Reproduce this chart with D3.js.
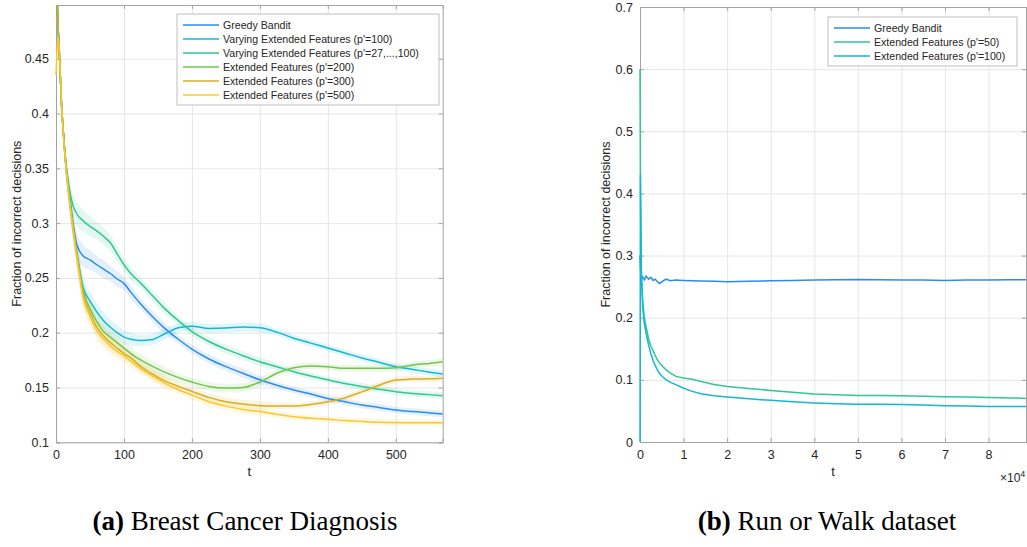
<!DOCTYPE html>
<html>
<head>
<meta charset="utf-8">
<script src="https://cdn.jsdelivr.net/npm/d3@7"></script>
<style>
    body { margin: 0; background: #fff; }
    svg text { font-family: "Liberation Sans", Arial, sans-serif; fill: #262626; }
    .caption { font-family: "Liberation Serif", "DejaVu Serif", serif; fill: #000; }
</style>
</head>
<body>
<svg id="chart" width="1027" height="547"></svg>
<script>
// ---- panel (a): Breast Cancer Diagnosis ----
const tLeft = [0, 3, 5, 8, 10, 15, 20, 25, 30, 40, 50, 60, 70, 80, 90, 100, 110, 125, 140, 160,
    180, 200, 225, 250, 275, 300, 325, 350, 375, 400, 425, 450, 475, 500, 525, 550, 569];

const greedyLeft = [0.54, 0.48, 0.455, 0.41, 0.39, 0.35, 0.325, 0.300, 0.282, 0.270,
    0.2665, 0.262, 0.258, 0.254, 0.249, 0.245, 0.237, 0.226, 0.216, 0.204,
    0.194, 0.185, 0.176, 0.169, 0.163, 0.157, 0.152, 0.1477, 0.144, 0.140,
    0.137, 0.134, 0.1318, 0.1295, 0.128, 0.1268, 0.1258];
const varying100Left = [0.54, 0.48, 0.455, 0.41, 0.39, 0.35, 0.322, 0.297, 0.276, 0.241,
    0.229, 0.219, 0.211, 0.205, 0.200, 0.196, 0.194, 0.1928, 0.1935, 0.199,
    0.2045, 0.206, 0.2038, 0.2042, 0.2052, 0.2045, 0.2005, 0.195, 0.1905, 0.186,
    0.1815, 0.177, 0.173, 0.169, 0.1665, 0.164, 0.1623];
const varyingRangeLeft = [0.54, 0.48, 0.455, 0.41, 0.39, 0.352, 0.330, 0.316, 0.309, 0.302,
    0.297, 0.293, 0.288, 0.282, 0.272, 0.262, 0.254, 0.245, 0.235, 0.222,
    0.211, 0.201, 0.192, 0.185, 0.179, 0.1735, 0.169, 0.1644, 0.1605, 0.157,
    0.1537, 0.151, 0.1485, 0.1462, 0.1445, 0.1435, 0.1425];
const ext200Left = [0.54, 0.48, 0.455, 0.41, 0.39, 0.35, 0.322, 0.297, 0.275, 0.238,
    0.222, 0.210, 0.201, 0.196, 0.191, 0.186, 0.181, 0.175, 0.170, 0.164,
    0.159, 0.155, 0.151, 0.1495, 0.150, 0.155, 0.163, 0.168, 0.1697, 0.169,
    0.1675, 0.1675, 0.1675, 0.168, 0.1705, 0.172, 0.1735];
const ext300Left = [0.54, 0.48, 0.455, 0.41, 0.39, 0.35, 0.321, 0.296, 0.274, 0.235,
    0.218, 0.205, 0.197, 0.191, 0.186, 0.181, 0.177, 0.169, 0.163, 0.156,
    0.151, 0.1465, 0.141, 0.137, 0.135, 0.1334, 0.1331, 0.1331, 0.1345, 0.137,
    0.1405, 0.146, 0.152, 0.1568, 0.1577, 0.158, 0.1585];
const ext500Left = [0.435, 0.47, 0.455, 0.41, 0.388, 0.348, 0.319, 0.294, 0.272, 0.232,
    0.215, 0.202, 0.194, 0.188, 0.183, 0.179, 0.174, 0.167, 0.161, 0.154,
    0.148, 0.143, 0.137, 0.133, 0.130, 0.128, 0.1255, 0.1234, 0.122, 0.121,
    0.1198, 0.119, 0.1183, 0.118, 0.1179, 0.1179, 0.1179];
// half width of the shaded confidence band
const bandLeft = [0.002, 0.004, 0.006, 0.008, 0.009, 0.010, 0.011, 0.011, 0.011, 0.010,
    0.009, 0.008, 0.008, 0.007, 0.007, 0.006, 0.006, 0.005, 0.005, 0.005,
    0.004, 0.004, 0.004, 0.004, 0.004, 0.004, 0.003, 0.003, 0.003, 0.003,
    0.003, 0.003, 0.003, 0.003, 0.003, 0.003, 0.003];

const namesLeft = ["Greedy Bandit", "Varying Extended Features (p'=100)",
    "Varying Extended Features (p'=27,...,100)", "Extended Features (p'=200)",
    "Extended Features (p'=300)", "Extended Features (p'=500)"];
const yTicksLeft = [0.1, 0.15, 0.2, 0.25, 0.3, 0.35, 0.4, 0.45];
const xTicksLeft = [0, 100, 200, 300, 400, 500];

// ---- panel (b): Run or Walk dataset ----
const tRight = [0, 100, 300, 600, 1000, 1400, 2000, 2500, 3000, 3500, 4000, 4500, 5200, 6000,
    7000, 8250, 10000, 12000, 14000, 17000, 20000, 25000, 30000, 35000, 40000, 45000,
    50000, 55000, 60000, 65000, 70000, 75000, 80000, 85000, 88588];
const greedyRight = [0.30, 0.28, 0.262, 0.266, 0.261, 0.267, 0.262, 0.265, 0.260, 0.262,
    0.258, 0.255, 0.259, 0.262, 0.2595, 0.2605, 0.2600, 0.2595, 0.2592, 0.2585,
    0.258, 0.2585, 0.2595, 0.260, 0.2605, 0.261, 0.2615, 0.261, 0.2605, 0.2605,
    0.260, 0.2605, 0.2605, 0.261, 0.261];
const ext50Right = [0.60, 0.40, 0.27, 0.229, 0.200, 0.186, 0.165, 0.154, 0.147, 0.139,
    0.132, 0.127, 0.1217, 0.116, 0.111, 0.1056, 0.103, 0.1008, 0.0975, 0.0925,
    0.0895, 0.0862, 0.083, 0.080, 0.0773, 0.076, 0.075, 0.0748, 0.0745, 0.0737,
    0.0729, 0.0724, 0.0718, 0.071, 0.0702];
const ext100Right = [0.0, 0.43, 0.28, 0.218, 0.190, 0.175, 0.155, 0.142, 0.131, 0.123,
    0.116, 0.110, 0.105, 0.100, 0.096, 0.0923, 0.0865, 0.0815, 0.0775, 0.0745,
    0.0724, 0.0695, 0.067, 0.0648, 0.0628, 0.0615, 0.0606, 0.0606, 0.0605, 0.0595,
    0.0585, 0.058, 0.0573, 0.0573, 0.0572];

const namesRight = ["Greedy Bandit", "Extended Features (p'=50)", "Extended Features (p'=100)"];
const yTicksRight = [0, 0.1, 0.2, 0.3, 0.4, 0.5, 0.6, 0.7];
const xTicksRight = [0, 10000, 20000, 30000, 40000, 50000, 60000, 70000, 80000];

const colors = {
    greedy: "#2b8cee",
    cyan: "#14b6d6",
    teal: "#2ec795",
    green: "#72c64c",
    gold: "#d8ae22",
    yellow: "#fcc72a"
};

const svg = d3.select("#chart");

function drawPanel(p) {
    const x = d3.scaleLinear().domain(p.xDomain).range(p.xRange);
    const y = d3.scaleLinear().domain(p.yDomain).range(p.yRange);
    const width = p.xRange[1] - p.xRange[0];
    const height = p.yRange[0] - p.yRange[1];

    const g = svg.append("g");

    // grid lines
    g.append("g")
        .attr("transform", `translate(0,${p.yRange[0]})`)
        .call(d3.axisBottom(x).tickValues(p.xTicks).tickSize(-height).tickFormat(""))
        .call(a => a.select(".domain").remove())
        .selectAll("line").attr("stroke", "#e6e6e6");
    g.append("g")
        .attr("transform", `translate(${p.xRange[0]},0)`)
        .call(d3.axisLeft(y).tickValues(p.yTicks).tickSize(-width).tickFormat(""))
        .call(a => a.select(".domain").remove())
        .selectAll("line").attr("stroke", "#e6e6e6");

    // axes with ticks pointing inward, on all four sides
    const axisColor = "#a3a3a3";
    const bottom = g.append("g")
        .attr("transform", `translate(0,${p.yRange[0]})`)
        .call(d3.axisBottom(x).tickValues(p.xTicks).tickSize(-4).tickPadding(8).tickFormat(p.xFormat));
    const left = g.append("g")
        .attr("transform", `translate(${p.xRange[0]},0)`)
        .call(d3.axisLeft(y).tickValues(p.yTicks).tickSize(-4).tickPadding(7).tickFormat(p.yFormat));
    const top = g.append("g")
        .attr("transform", `translate(0,${p.yRange[1]})`)
        .call(d3.axisTop(x).tickValues(p.xTicks).tickSize(-4).tickFormat(""));
    const right = g.append("g")
        .attr("transform", `translate(${p.xRange[1]},0)`)
        .call(d3.axisRight(y).tickValues(p.yTicks).tickSize(-4).tickFormat(""));
    [bottom, left, top, right].forEach(a => {
        a.select(".domain").attr("stroke", axisColor);
        a.selectAll(".tick line").attr("stroke", axisColor);
        a.selectAll("text").style("font-size", "12.5px").attr("fill", "#262626");
    });

    // clip to the plot box
    svg.append("clipPath").attr("id", p.id + "clip")
        .append("rect")
        .attr("x", p.xRange[0] - 1).attr("y", p.yRange[1])
        .attr("width", width + 1).attr("height", height + 1);

    // data drawn over the axis lines
    const plot = g.append("g").attr("clip-path", `url(#${p.id}clip)`);

    if (p.band) {
        const area = d3.area()
            .x((d, i) => x(p.t[i]))
            .y0((d, i) => y(d - p.band[i]))
            .y1((d, i) => y(d + p.band[i]))
            .curve(d3.curveMonotoneX);
        p.series.forEach(s => {
            plot.append("path")
                .datum(s.values)
                .attr("d", area)
                .attr("fill", s.color)
                .attr("opacity", 0.13);
        });
    }

    const line = d3.line()
        .x((d, i) => x(p.t[i]))
        .y(d => y(d))
        .curve(p.curve);

    p.series.forEach(s => {
        plot.append("path")
            .datum(s.values)
            .attr("d", line)
            .attr("fill", "none")
            .attr("stroke", s.color)
            .attr("stroke-width", 1.5);
    });

    // axis labels
    g.append("text")
        .attr("x", (p.xRange[0] + p.xRange[1]) / 2)
        .attr("y", p.yRange[0] + 34)
        .attr("text-anchor", "middle")
        .style("font-size", "13px")
        .text("t");
    g.append("text")
        .attr("transform", `translate(${p.yLabelX},${(p.yRange[0] + p.yRange[1]) / 2}) rotate(-90)`)
        .attr("text-anchor", "middle")
        .style("font-size", "12.5px")
        .text("Fraction of incorrect decisions");

    // legend
    const lg = g.append("g").attr("transform", `translate(${p.legend.x},${p.legend.y})`);
    lg.append("rect")
        .attr("width", p.legend.w)
        .attr("height", p.series.length * 14 + 7)
        .attr("fill", "#fff")
        .attr("stroke", "#b0b0b0")
        .attr("stroke-width", 0.8);
    p.series.forEach((s, i) => {
        const yy = 11 + i * 14;
        lg.append("line")
            .attr("x1", 6).attr("x2", 42)
            .attr("y1", yy).attr("y2", yy)
            .attr("stroke", s.color)
            .attr("stroke-width", 1.5);
        lg.append("text")
            .attr("x", 46).attr("y", yy + 3.8)
            .style("font-size", "10.6px")
            .text(s.name);
    });

    return { g, x, y };
}

// panel (a)
drawPanel({
    id: "a",
    t: tLeft,
    xDomain: [0, 569], xRange: [56, 442.7],
    yDomain: [0.1, 0.499], yRange: [442.3, 5],
    xTicks: xTicksLeft, yTicks: yTicksLeft,
    xFormat: d3.format("d"), yFormat: d => String(d),
    yLabelX: 21,
    curve: d3.curveMonotoneX,
    band: bandLeft,
    legend: { x: 177, y: 14, w: 262 },
    series: [
        { name: namesLeft[0], values: greedyLeft, color: colors.greedy },
        { name: namesLeft[1], values: varying100Left, color: colors.cyan },
        { name: namesLeft[2], values: varyingRangeLeft, color: colors.teal },
        { name: namesLeft[3], values: ext200Left, color: colors.green },
        { name: namesLeft[4], values: ext300Left, color: colors.gold },
        { name: namesLeft[5], values: ext500Left, color: colors.yellow }
    ]
});

// panel (b)
const right = drawPanel({
    id: "b",
    t: tRight,
    xDomain: [0, 88588], xRange: [640, 1026],
    yDomain: [0, 0.7], yRange: [442, 7],
    xTicks: xTicksRight, yTicks: yTicksRight,
    xFormat: d => String(d / 10000), yFormat: d => String(d),
    yLabelX: 610,
    curve: d3.curveLinear,
    band: null,
    legend: { x: 828, y: 17, w: 189 },
    series: [
        { name: namesRight[0], values: greedyRight, color: colors.greedy },
        { name: namesRight[1], values: ext50Right, color: colors.teal },
        { name: namesRight[2], values: ext100Right, color: colors.cyan }
    ]
});

// x10^4 exponent label
const expo = right.g.append("text")
    .attr("x", 1000).attr("y", 482)
    .style("font-size", "12px");
expo.append("tspan").text("\u00d710");
expo.append("tspan").attr("dy", -5).style("font-size", "9px").text("4");

// captions
const captions = [
    { x: 245, label: "(a)", text: " Breast Cancer Diagnosis" },
    { x: 827, label: "(b)", text: " Run or Walk dataset" }
];
captions.forEach(c => {
    const t = svg.append("text")
        .attr("class", "caption")
        .attr("x", c.x).attr("y", 530)
        .attr("text-anchor", "middle")
        .style("font-size", "27px");
    t.append("tspan").style("font-weight", "bold").text(c.label);
    t.append("tspan").text(c.text);
});
</script>
</body>
</html>
